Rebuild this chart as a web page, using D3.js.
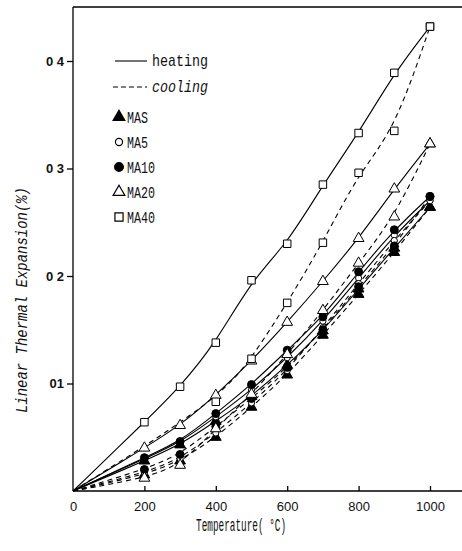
<!DOCTYPE html>
<html>
<head>
<meta charset="utf-8">
<script src="https://cdn.jsdelivr.net/npm/d3@7"></script>
<style>
	body { margin: 0; background: #fff; }
	svg { display: block; }
	.axis path, .axis line { stroke: #000; stroke-width: 1.3; }
	.axis text { font-family: "Liberation Sans", Arial, sans-serif; font-size: 13px; fill: #111; }
	.mono { font-family: "Liberation Mono", "DejaVu Sans Mono", monospace; fill: #111; }
	.heat { fill: none; stroke: #000; stroke-width: 1.1; }
	.cool { fill: none; stroke: #000; stroke-width: 1.1; stroke-dasharray: 5,4; }
</style>
</head>
<body>
<div id="graphic"></div>
<script>
// Temperatures (°C) of the measured points
var TEMPS = [200, 300, 400, 500, 600, 700, 800, 900, 1000];

var SERIES = ['MAS', 'MA5', 'MA10', 'MA20', 'MA40'];

// heating / cooling values, linear thermal expansion (%)
var HEAT_MAS  = [0.028, 0.043, 0.065, 0.088, 0.117, 0.149, 0.188, 0.226, 0.264];
var COOL_MAS  = [0.015, 0.028, 0.050, 0.078, 0.108, 0.145, 0.183, 0.222, 0.264];
var HEAT_MA5  = [0.030, 0.045, 0.069, 0.094, 0.124, 0.158, 0.198, 0.238, 0.270];
var COOL_MA5  = [0.017, 0.030, 0.054, 0.082, 0.112, 0.152, 0.193, 0.233, 0.270];
var HEAT_MA10 = [0.031, 0.046, 0.072, 0.099, 0.131, 0.162, 0.204, 0.243, 0.274];
var COOL_MA10 = [0.020, 0.034, 0.060, 0.086, 0.115, 0.150, 0.190, 0.228, 0.274];
var HEAT_MA20 = [0.040, 0.061, 0.089, 0.121, 0.157, 0.195, 0.235, 0.281, 0.323];
var COOL_MA20 = [0.012, 0.024, 0.058, 0.090, 0.127, 0.168, 0.212, 0.255, 0.323];
var HEAT_MA40 = [0.064, 0.097, 0.138, 0.196, 0.230, 0.285, 0.333, 0.389, 0.432];
var COOL_MA40 = [null, null, 0.083, 0.123, 0.175, 0.231, 0.296, 0.335, 0.432];

var HEAT = [HEAT_MAS, HEAT_MA5, HEAT_MA10, HEAT_MA20, HEAT_MA40];
var COOL = [COOL_MAS, COOL_MA5, COOL_MA10, COOL_MA20, COOL_MA40];

var X_TICKS = [0, 200, 400, 600, 800, 1000];
var Y_TICKS = [0.1, 0.2, 0.3, 0.4];
var Y_TICK_LABELS = ['01', '0 2', '0 3', '0 4'];

var MARKERS = {
	'MAS':  { type: d3.symbolTriangle, size: 50, fill: '#000' },
	'MA5':  { type: d3.symbolCircle, size: 30, fill: '#fff' },
	'MA10': { type: d3.symbolCircle, size: 50, fill: '#000' },
	'MA20': { type: d3.symbolTriangle, size: 50, fill: '#fff' },
	'MA40': { type: d3.symbolSquare, size: 56, fill: '#fff' }
};

function toPoints(values) {
	var pts = [[0, 0]];
	values.forEach(function(v, i) {
		if (v !== null) pts.push([TEMPS[i], v]);
	});
	return pts;
}

function renderGraphic() {
	var width = 462, height = 551;

	var svg = d3.select('#graphic').append('svg')
		.attr('width', width)
		.attr('height', height);

	var xScale = d3.scaleLinear().domain([0, 1000]).range([73, 430]);
	var yScale = d3.scaleLinear().domain([0, 0.4]).range([491, 61]);

	var xMax = xScale.invert(width);
	var yMax = yScale.invert(7);

	// frame line on top
	svg.append('line')
		.attr('x1', xScale(0)).attr('x2', xScale(xMax))
		.attr('y1', yScale(yMax)).attr('y2', yScale(yMax))
		.attr('stroke', '#000').attr('stroke-width', 1.3);

	var xAxis = d3.axisBottom(xScale)
		.tickValues(X_TICKS)
		.tickSizeInner(-5)
		.tickSizeOuter(0)
		.tickPadding(11)
		.tickFormat(d3.format('d'));

	var xAxisElement = svg.append('g')
		.attr('class', 'x axis')
		.attr('transform', 'translate(0,' + yScale(0) + ')')
		.call(xAxis);
	xAxisElement.select('.domain').attr('d', 'M' + xScale(0) + ',0H' + xScale(xMax));
	xAxisElement.selectAll('.tick').filter(function(d) { return d === 0; }).select('line').remove();

	var yAxis = d3.axisLeft(yScale)
		.tickValues(Y_TICKS)
		.tickSize(6)
		.tickPadding(3)
		.tickFormat(function(d, i) { return Y_TICK_LABELS[i]; });

	var yAxisElement = svg.append('g')
		.attr('class', 'y axis')
		.attr('transform', 'translate(' + xScale(0) + ',0)')
		.call(yAxis);
	yAxisElement.select('.domain').attr('d', 'M0,' + yScale(yMax) + 'V' + yScale(0));
	yAxisElement.selectAll('text').style('font-weight', 'bold');

	// curves (smooth fits through the measured points)
	var line = d3.line()
		.x(function(d) { return xScale(d[0]); })
		.y(function(d) { return yScale(d[1]); })
		.curve(d3.curveBasis);

	var plot = svg.append('g').attr('class', 'plot');

	SERIES.forEach(function(name, i) {
		plot.append('path')
			.attr('class', 'cool')
			.attr('d', line(toPoints(COOL[i])));
		plot.append('path')
			.attr('class', 'heat')
			.attr('stroke-width', name === 'MAS' ? 1.8 : 1.1)
			.attr('d', line(toPoints(HEAT[i])));
	});

	SERIES.forEach(function(name, i) {
		var m = MARKERS[name];
		var sym = d3.symbol().type(m.type).size(m.size);
		[HEAT[i], COOL[i]].forEach(function(values) {
			plot.append('g').selectAll('path')
				.data(toPoints(values).slice(1))
				.enter().append('path')
				.attr('d', sym)
				.attr('transform', function(d) {
					return 'translate(' + xScale(d[0]) + ',' + yScale(d[1]) + ')';
				})
				.attr('fill', m.fill)
				.attr('stroke', '#000')
				.attr('stroke-width', 1);
		});
	});

	// legend: line styles
	var legend = svg.append('g').attr('class', 'legend');
	legend.append('line')
		.attr('x1', 115).attr('x2', 147).attr('y1', 61).attr('y2', 61)
		.attr('stroke', '#000').attr('stroke-width', 1.1);
	legend.append('text')
		.attr('class', 'mono')
		.attr('x', 152).attr('y', 66)
		.style('font-size', '17px')
		.attr('textLength', 56).attr('lengthAdjust', 'spacingAndGlyphs')
		.text('heating');
	legend.append('line')
		.attr('x1', 113).attr('x2', 147).attr('y1', 87).attr('y2', 87)
		.attr('stroke', '#000').attr('stroke-width', 1.1)
		.attr('stroke-dasharray', '5,3');
	legend.append('text')
		.attr('class', 'mono')
		.attr('x', 152).attr('y', 92)
		.style('font-size', '17px').style('font-style', 'italic')
		.attr('textLength', 56).attr('lengthAdjust', 'spacingAndGlyphs')
		.text('cooling');

	// legend: markers
	SERIES.forEach(function(name, i) {
		var m = MARKERS[name];
		var y = 117 + i * 25;
		legend.append('path')
			.attr('d', d3.symbol().type(m.type).size(m.size + 10))
			.attr('transform', 'translate(119,' + y + ')')
			.attr('fill', m.fill)
			.attr('stroke', '#000')
			.attr('stroke-width', 1.2);
		legend.append('text')
			.attr('class', 'mono')
			.attr('x', 127).attr('y', y + 6)
			.style('font-size', '17px')
			.attr('textLength', name.length * 7)
			.attr('lengthAdjust', 'spacingAndGlyphs')
			.text(name);
	});

	// axis titles
	svg.append('text')
		.attr('class', 'mono')
		.attr('x', 241).attr('y', 531)
		.attr('text-anchor', 'middle')
		.style('font-size', '18px')
		.attr('textLength', 90).attr('lengthAdjust', 'spacingAndGlyphs')
		.text('Temperature( °C)');

	svg.append('text')
		.attr('class', 'mono')
		.attr('transform', 'translate(27,300) rotate(-90)')
		.attr('text-anchor', 'middle')
		.style('font-size', '17px').style('font-style', 'italic')
		.attr('textLength', 226).attr('lengthAdjust', 'spacingAndGlyphs')
		.text('Linear Thermal Expansion(%)');
}

document.addEventListener('DOMContentLoaded', function() {
	renderGraphic();
});
</script>
</body>
</html>
